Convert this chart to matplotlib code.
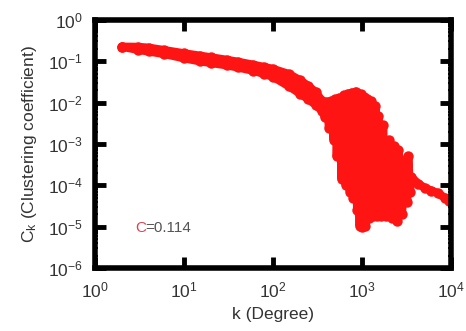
import numpy as np
import matplotlib
matplotlib.use("Agg")
import matplotlib.pyplot as plt
from matplotlib.ticker import LogLocator, NullLocator, NullFormatter

plt.rcParams['font.family'] = ['Liberation Sans', 'DejaVu Sans']
plt.rcParams['mathtext.fontset'] = 'custom'
plt.rcParams['mathtext.rm'] = 'Liberation Sans'
plt.rcParams['mathtext.it'] = 'Liberation Sans:italic'

# degree k and clustering coefficient C(k)
# low-degree part: upper, middle and lower edge of the thick trace
k_upper = [2, 3, 4, 6, 10, 15, 20, 30, 40, 60, 80, 100, 150, 200, 250, 300, 355]
c_upper = [0.224, 0.222, 0.212, 0.185, 0.155, 0.136, 0.124, 0.108, 0.097, 0.082,
           0.072, 0.065, 0.049, 0.035, 0.025, 0.018, 0.011]
k_middle = [30, 40, 60, 80, 100, 150, 200, 250, 300, 355]
c_middle = [0.093, 0.083, 0.07, 0.06, 0.053, 0.036, 0.025, 0.018, 0.013, 0.0085]
k_lower = [2, 3, 4, 6, 10, 15, 20, 30, 40, 60, 80, 100, 150, 200, 250, 300, 355]
c_lower = [0.224, 0.19, 0.172, 0.15, 0.118, 0.1, 0.091, 0.08, 0.071, 0.059,
           0.049, 0.042, 0.025, 0.0166, 0.012, 0.0089, 0.0063]

# high-degree scatter (alternating top / bottom of the cloud)
k_noisy = [380, 400, 425, 450, 480, 500, 520, 550, 590, 620, 657, 690, 730, 765,
           800, 850, 880, 910, 940, 970, 1010, 1050, 1090, 1140, 1200, 1260, 1330,
           1410, 1470, 1520, 1620, 1720, 1850, 1990, 2150, 2300, 2450, 2560, 2800,
           3070, 3200, 3300, 3450]
c_noisy = [4.5e-3, 1.05e-2, 2.5e-3, 1.1e-2, 1.25e-3, 1.2e-2, 5e-4, 1.3e-2, 1.4e-4,
           1.5e-2, 1.0e-4, 1.65e-2, 7e-5, 1.75e-2, 5e-5, 1.85e-2, 2.5e-5, 1.65e-2,
           1.05e-5, 1.6e-2, 1.0e-5, 1.4e-2, 1.05e-5, 1.25e-2, 1.6e-5, 1.1e-2, 1.8e-5,
           8.3e-3, 1.8e-5, 4.7e-3, 1.8e-5, 2.8e-3, 1.8e-5, 1.25e-3, 1.6e-5, 9e-4,
           1.4e-5, 7e-4, 2e-5, 4e-4, 4e-5, 5e-4, 7e-5]

k_tail = [3550, 4270, 5130, 6000, 7100, 8500, 9500]
c_tail = [1.6e-4, 1.1e-4, 8.5e-5, 7.5e-5, 6.5e-5, 5e-5, 4.2e-5]

avg_c = 0.114

RED = '#ff1414'

fig = plt.figure(figsize=(4.66, 3.31), dpi=100)
fig.patch.set_facecolor('white')
ax = fig.add_axes([0.204, 0.190, 0.764, 0.750])

style = dict(color=RED, linewidth=6, marker='o', markersize=7.5,
             markeredgewidth=0, solid_joinstyle='round', solid_capstyle='round')
ax.plot(k_upper + k_noisy + k_tail, c_upper + c_noisy + c_tail, **style)
ax.plot(k_middle, c_middle, **style)
ax.plot(k_lower, c_lower, **style)

ax.set_xscale('log')
ax.set_yscale('log')
ax.set_xlim(1, 1e4)
ax.set_ylim(1e-6, 1)

ax.xaxis.set_major_locator(LogLocator(base=10, numticks=10))
ax.xaxis.set_minor_locator(NullLocator())
ax.yaxis.set_major_locator(LogLocator(base=10, numticks=10))
ax.yaxis.set_minor_locator(LogLocator(base=10, subs=np.arange(2, 10), numticks=10))
ax.yaxis.set_minor_formatter(NullFormatter())

for spine in ax.spines.values():
    spine.set_linewidth(4)

ax.tick_params(which='major', direction='in', length=8, width=3.5,
               top=True, right=True, labelsize=12.5, labelcolor='#333333')
ax.tick_params(axis='x', which='major', pad=9)
ax.tick_params(axis='y', which='major', pad=9)
ax.tick_params(which='minor', direction='in', length=2.5, width=1.5,
               left=True, right=True)

ax.set_xlabel('k (Degree)', fontsize=12.5, color='#333333', labelpad=5)
ax.set_ylabel('C$_\\mathrm{k}$ (Clustering coefficient)', fontsize=12.5,
              color='#333333', labelpad=6)

ax.text(0.112, 0.161, 'C', transform=ax.transAxes, fontsize=11,
        color='#e04050', ha='left', va='center')
ax.text(0.142, 0.161, f'={avg_c}', transform=ax.transAxes, fontsize=11,
        color='#555555', ha='left', va='center')

fig.savefig('out.png', dpi=100, facecolor='white')
